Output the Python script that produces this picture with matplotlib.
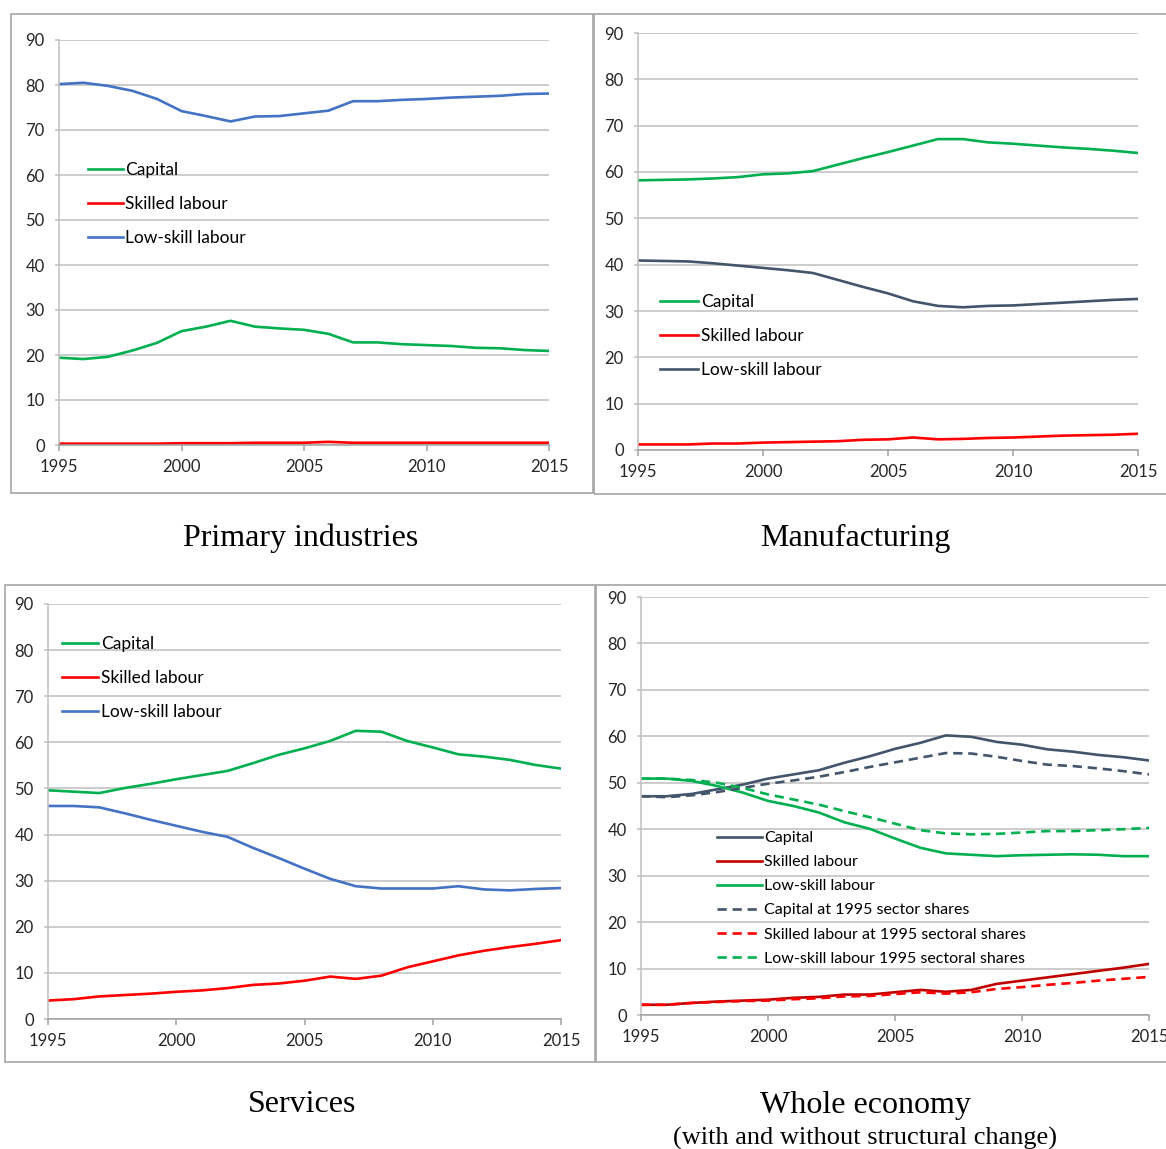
import matplotlib
matplotlib.use('Agg')
import matplotlib.pyplot as plt
from matplotlib.patches import Rectangle

years = list(range(1995, 2016))

# Primary industries
prim_capital = [19.4, 19.1, 19.6, 21.0, 22.7, 25.3, 26.3, 27.6, 26.3, 25.9, 25.6,
                24.7, 22.8, 22.8, 22.4, 22.2, 22.0, 21.6, 21.5, 21.1, 20.9]
prim_skilled = [0.3, 0.3, 0.3, 0.3, 0.3, 0.4, 0.4, 0.4, 0.5, 0.5, 0.5,
                0.7, 0.5, 0.5, 0.5, 0.5, 0.5, 0.5, 0.5, 0.5, 0.5]
prim_lowskill = [80.2, 80.5, 79.8, 78.7, 76.9, 74.2, 73.1, 71.9, 73.0, 73.1, 73.7,
                 74.3, 76.4, 76.4, 76.7, 76.9, 77.2, 77.4, 77.6, 78.0, 78.1]

# Manufacturing
man_capital = [58.2, 58.3, 58.4, 58.6, 58.9, 59.5, 59.7, 60.2, 61.6, 63.0, 64.3,
               65.7, 67.1, 67.1, 66.4, 66.1, 65.7, 65.3, 65.0, 64.6, 64.1]
man_skilled = [1.2, 1.2, 1.2, 1.4, 1.4, 1.6, 1.7, 1.8, 1.9, 2.2, 2.3,
               2.7, 2.3, 2.4, 2.6, 2.7, 2.9, 3.1, 3.2, 3.3, 3.5]
man_lowskill = [40.9, 40.8, 40.7, 40.3, 39.8, 39.3, 38.8, 38.2, 36.7, 35.2, 33.8,
                32.1, 31.1, 30.8, 31.1, 31.2, 31.5, 31.8, 32.1, 32.4, 32.6]

# Services
serv_capital = [49.6, 49.3, 49.0, 50.1, 51.0, 52.0, 52.9, 53.8, 55.5, 57.3, 58.7,
                60.3, 62.5, 62.3, 60.3, 58.9, 57.4, 56.9, 56.2, 55.1, 54.3]
serv_skilled = [4.0, 4.3, 4.9, 5.2, 5.5, 5.9, 6.2, 6.7, 7.4, 7.7, 8.3,
                9.2, 8.7, 9.4, 11.2, 12.5, 13.8, 14.8, 15.6, 16.3, 17.1]
serv_lowskill = [46.2, 46.2, 45.9, 44.6, 43.2, 41.9, 40.6, 39.5, 37.1, 34.9, 32.6,
                 30.4, 28.8, 28.3, 28.3, 28.3, 28.8, 28.1, 27.9, 28.2, 28.4]

# Whole economy
whole_capital = [47.1, 47.1, 47.6, 48.6, 49.6, 50.9, 51.8, 52.7, 54.3, 55.7, 57.3,
                 58.6, 60.2, 59.9, 58.8, 58.2, 57.2, 56.7, 56.0, 55.5, 54.8]
whole_skilled = [2.2, 2.2, 2.6, 2.9, 3.1, 3.3, 3.7, 3.9, 4.4, 4.4, 4.9,
                 5.4, 5.0, 5.4, 6.7, 7.4, 8.1, 8.8, 9.5, 10.2, 11.0]
whole_lowskill = [50.9, 50.9, 50.4, 49.3, 47.9, 46.1, 45.0, 43.6, 41.5, 40.1, 38.0,
                  36.0, 34.8, 34.5, 34.2, 34.4, 34.5, 34.6, 34.5, 34.2, 34.2]
whole_capital_1995 = [47.1, 46.9, 47.3, 48.0, 48.9, 49.8, 50.5, 51.3, 52.3, 53.4, 54.4,
                      55.4, 56.4, 56.3, 55.6, 54.7, 53.9, 53.6, 53.1, 52.5, 51.8]
whole_skilled_1995 = [2.2, 2.2, 2.6, 2.8, 3.0, 3.1, 3.4, 3.6, 4.0, 4.1, 4.5,
                      4.9, 4.6, 4.9, 5.6, 6.0, 6.5, 6.9, 7.4, 7.8, 8.2]
whole_lowskill_1995 = [50.9, 50.9, 50.6, 50.0, 48.9, 47.5, 46.4, 45.3, 43.9, 42.6, 41.2,
                       39.8, 39.1, 38.9, 39.0, 39.3, 39.6, 39.6, 39.8, 40.0, 40.3]

GREEN = '#00B050'
RED = '#FF0000'
DARKRED = '#C00000'
BLUE = '#4472C4'
SLATE = '#44546A'
GRID = '#BFBFBF'
TICKFONT = 'Lato'

W, H = 1166, 1149
fig = plt.figure(figsize=(W / 100, H / 100), dpi=100)


def px_axes(x0, x1, y_top, y_bot):
    return fig.add_axes([x0 / W, 1 - y_bot / H, (x1 - x0) / W, (y_bot - y_top) / H])


def style(ax):
    ax.set_xlim(1995, 2015)
    ax.set_ylim(0, 90)
    ax.set_yticks(range(0, 91, 10))
    ax.set_xticks(range(1995, 2016, 5))
    ax.grid(axis='y', color=GRID, linewidth=1.1)
    ax.set_axisbelow(True)
    for s in ['top', 'right']:
        ax.spines[s].set_visible(False)
    ax.spines['left'].set_color(GRID)
    ax.spines['bottom'].set_color('#A0A0A0')
    ax.spines['left'].set_linewidth(1.1)
    ax.spines['bottom'].set_linewidth(1.1)
    ax.tick_params(axis='y', length=3.2, color=GRID, width=1.1, pad=7, labelsize=12,
                   labelcolor='#262626')
    ax.tick_params(axis='x', length=4, color='#A0A0A0', width=1.1, pad=6, labelsize=12,
                   labelcolor='#262626')
    for lab in ax.get_xticklabels() + ax.get_yticklabels():
        lab.set_fontfamily(TICKFONT)
    ax.patch.set_alpha(0)


def legend(ax, x, y, size, spacing, hlen):
    leg = ax.legend(loc='upper left', bbox_to_anchor=(x / W, 1 - y / H),
                    bbox_transform=fig.transFigure, frameon=False, borderpad=0,
                    borderaxespad=0, handlelength=hlen, handletextpad=0.15,
                    labelspacing=spacing, prop={'family': TICKFONT, 'size': size})
    return leg


def border(x0, y0, x1, y1):
    fig.patches.append(Rectangle((x0 / W, 1 - y1 / H), (x1 - x0) / W, (y1 - y0) / H,
                                 transform=fig.transFigure, fill=False,
                                 edgecolor='#A6A6A6', linewidth=1.2, zorder=0))


border(11, 14, 593, 493)
border(594, 14, 1175, 494)
border(5, 585, 595, 1062)
border(596, 585, 1175, 1062)

LW = 1.9

# Panel 1: Primary industries
ax1 = px_axes(59, 549, 40, 445)
ax1.plot(years, prim_capital, color=GREEN, lw=LW, label='Capital')
ax1.plot(years, prim_skilled, color=RED, lw=LW, label='Skilled labour')
ax1.plot(years, prim_lowskill, color=BLUE, lw=LW, label='Low-skill labour')
style(ax1)
legend(ax1, 88, 162, 12.5, 1.05, 2.0)

# Panel 2: Manufacturing
ax2 = px_axes(638, 1138, 33, 450)
ax2.plot(years, man_capital, color=GREEN, lw=LW, label='Capital')
ax2.plot(years, man_skilled, color=RED, lw=LW, label='Skilled labour')
ax2.plot(years, man_lowskill, color=SLATE, lw=LW, label='Low-skill labour')
style(ax2)
legend(ax2, 660, 294, 12.5, 1.05, 2.2)

# Panel 3: Services
ax3 = px_axes(48, 561, 604, 1019)
ax3.plot(years, serv_capital, color=GREEN, lw=LW, label='Capital')
ax3.plot(years, serv_skilled, color=RED, lw=LW, label='Skilled labour')
ax3.plot(years, serv_lowskill, color=BLUE, lw=LW, label='Low-skill labour')
style(ax3)
legend(ax3, 62, 636, 12.5, 1.05, 2.1)

# Panel 4: Whole economy
ax4 = px_axes(641, 1149, 597, 1015)
dash = (0, (3.5, 2.2))
ax4.plot(years, whole_capital, color=SLATE, lw=LW, label='Capital')
ax4.plot(years, whole_skilled, color=DARKRED, lw=LW, label='Skilled labour')
ax4.plot(years, whole_lowskill, color=GREEN, lw=LW, label='Low-skill labour')
ax4.plot(years, whole_capital_1995, color=SLATE, lw=LW, ls=dash,
         label='Capital at 1995 sector shares')
ax4.plot(years, whole_skilled_1995, color=RED, lw=LW, ls=dash,
         label='Skilled labour at 1995 sectoral shares')
ax4.plot(years, whole_lowskill_1995, color=GREEN, lw=LW, ls=dash,
         label='Low-skill labour 1995 sectoral shares')
style(ax4)
legend(ax4, 717, 831, 11.5, 0.62, 2.8)

# Panel titles
serif = 'Liberation Serif'
fig.text(301 / W, 1 - 538 / H, 'Primary industries', ha='center', va='center',
         fontsize=23, family=serif)
fig.text(855 / W, 1 - 538 / H, 'Manufacturing', ha='center', va='center',
         fontsize=23, family=serif)
fig.text(302 / W, 1 - 1105 / H, 'Services', ha='center', va='center',
         fontsize=23, family=serif)
fig.text(865 / W, 1 - 1105 / H, 'Whole economy', ha='center', va='center',
         fontsize=23, family=serif)
fig.text(865 / W, 1 - 1138 / H, '(with and without structural change)', ha='center',
         va='center', fontsize=19, family=serif)

fig.savefig('out.png', dpi=100)
